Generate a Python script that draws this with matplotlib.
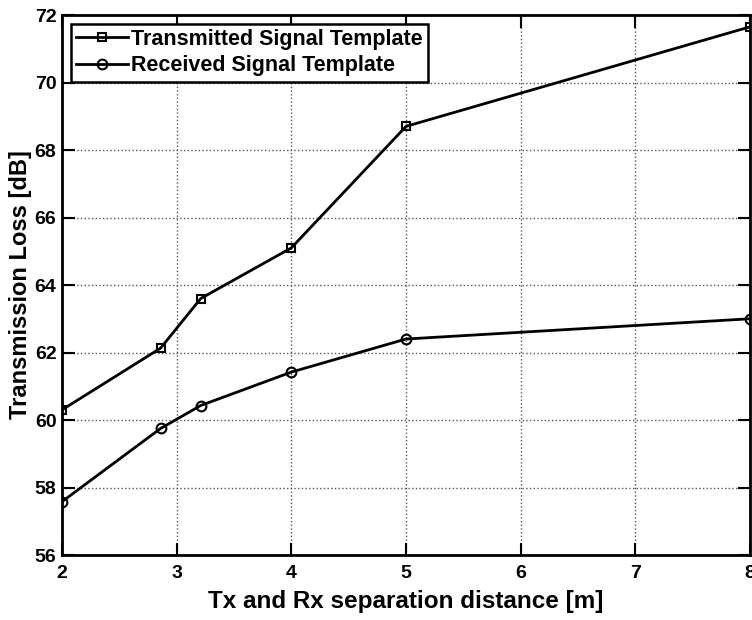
import numpy as np
import matplotlib.pyplot as plt

# separation distance [m]
dist = [2, 2.86, 3.21, 4, 5, 8]
# transmission loss [dB]
tx_loss = [60.3, 62.13, 63.6, 65.1, 68.7, 71.65]
rx_loss = [57.58, 59.75, 60.43, 61.42, 62.4, 63.0]

plt.rcParams['font.family'] = ['Liberation Sans', 'DejaVu Sans']
plt.rcParams['font.weight'] = 'bold'

fig = plt.figure(figsize=(7.52, 6.2), dpi=100)
ax = fig.add_axes([0.0824, 0.1048, 0.915, 0.871])

ax.plot(dist, tx_loss, 'k-', marker='s', markersize=6, mfc='none', mew=1.5,
        lw=2, label='Transmitted Signal Template')
ax.plot(dist, rx_loss, 'k-', marker='o', markersize=7, mfc='none', mew=1.5,
        lw=2, label='Received Signal Template')

ax.set_xlim(2, 8)
ax.set_ylim(56, 72)
ax.set_xticks(np.arange(2, 9, 1))
ax.set_yticks(np.arange(56, 73, 2))
ax.grid(True, linestyle=':', color='#555555', lw=1)
ax.tick_params(direction='in', length=9, width=1.5, top=True, right=True,
               labelsize=14)
ax.tick_params(axis='x', pad=7)
ax.tick_params(axis='y', pad=4)
for s in ax.spines.values():
    s.set_linewidth(2)

ax.set_xlabel('Tx and Rx separation distance [m]', fontsize=17.5, fontweight='bold', labelpad=6)
ax.set_ylabel('Transmission Loss [dB]', fontsize=17, fontweight='bold', labelpad=2)

leg = ax.legend(loc='upper left', fontsize=15.5, handlelength=2.4, handletextpad=0.15,
                borderaxespad=0.4, borderpad=0.25, labelspacing=0.25, fancybox=False,
                framealpha=1)
leg.get_frame().set_edgecolor('black')
leg.get_frame().set_linewidth(1.8)

fig.savefig('out.png', dpi=100)
